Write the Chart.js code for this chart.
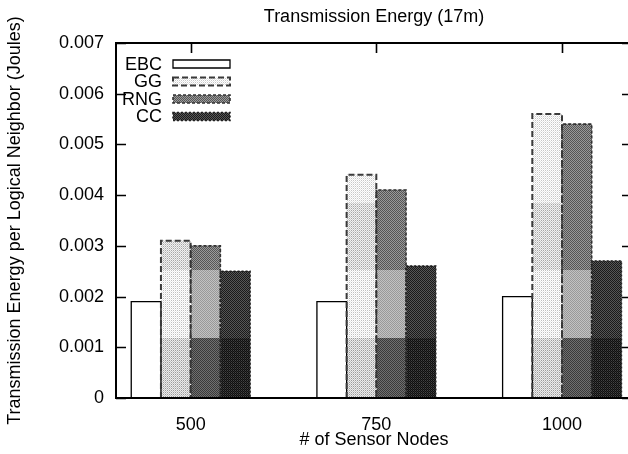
<!DOCTYPE html>
<html>
<head>
<meta charset="utf-8">
<script src="https://cdn.jsdelivr.net/npm/chart.js@4.4.1/dist/chart.umd.min.js"></script>
<style>
  html, body { margin: 0; padding: 0; background: #fff; overflow: hidden; }
  canvas { display: block; }
</style>
</head>
<body>
<canvas id="energyChart" width="636" height="454"></canvas>
<script>
// transmission energy per logical neighbor, by network size
const sensorNodes = ['500', '750', '1000'];
const seriesNames = ['EBC', 'GG', 'RNG', 'CC'];
const ebcEnergy = [0.0019, 0.0019, 0.0020];
const ggEnergy  = [0.0031, 0.0044, 0.0056];
const rngEnergy = [0.0030, 0.0041, 0.0054];
const ccEnergy  = [0.0025, 0.0026, 0.0027];

const canvas = document.getElementById('energyChart');
const ctx = canvas.getContext('2d');
const font = { family: '"Liberation Sans", Arial, Helvetica, sans-serif', size: 18, weight: 'normal' };

// dithered gray fills, tone changes at fixed rows (bands) like the old gnuplot print
function dither(bands) {
    const tile = document.createElement('canvas');
    tile.width = 2;
    tile.height = canvas.height;
    const g = tile.getContext('2d');
    let y0 = 0;
    bands.forEach(([until, cells]) => {
        for (let y = y0; y < until; y++) {
            for (let x = 0; x < 2; x++) {
                g.fillStyle = cells[(y % 2) * 2 + x];
                g.fillRect(x, y, 1, 1);
            }
        }
        y0 = until;
    });
    return ctx.createPattern(tile, 'repeat');
}

const ggFill = dither([
    [203, ['#ffffff', '#c8c8c8', '#e6e6e6', '#ffffff']],
    [270, ['#f2f2f2', '#a8a8a8', '#cccccc', '#f2f2f2']],
    [338, ['#ffffff', '#c0c0c0', '#ebebeb', '#ffffff']],
    [454, ['#ececec', '#9c9c9c', '#c4c4c4', '#ececec']]
]);
const rngFill = dither([
    [270, ['#565656', '#9a9a9a', '#9a9a9a', '#565656']],
    [338, ['#999999', '#c2c2c2', '#c2c2c2', '#999999']],
    [454, ['#3a3a3a', '#707070', '#707070', '#3a3a3a']]
]);
const ccFill = dither([
    [338, ['#1a1a1a', '#565656', '#565656', '#1a1a1a']],
    [454, ['#0e0e0e', '#444444', '#2c2c2c', '#0e0e0e']]
]);

// outline of each series: dash pattern, colour, width
const edgeStyles = [
    { dash: [], color: '#000', width: 1.3 },
    { dash: [6, 3], color: '#3a3a3a', width: 2 },
    { dash: [3, 2], color: '#333', width: 1.6 },
    { dash: [2, 2], color: '#222', width: 1.6 }
];

const toPoints = arr => arr.map((v, i) => ({ x: i, y: v }));

const datasets = [
    { label: seriesNames[0], data: toPoints(ebcEnergy), backgroundColor: '#fff' },
    { label: seriesNames[1], data: toPoints(ggEnergy), backgroundColor: ggFill },
    { label: seriesNames[2], data: toPoints(rngEnergy), backgroundColor: rngFill },
    { label: seriesNames[3], data: toPoints(ccEnergy), backgroundColor: ccFill }
];

function outline(c, left, top, right, bottom, st, closed) {
    c.save();
    c.strokeStyle = st.color;
    c.lineWidth = st.width;
    c.setLineDash(st.dash);
    c.beginPath();
    if (closed) {
        c.rect(left, top, right - left, bottom - top);
    } else {
        c.moveTo(left, bottom);
        c.lineTo(left, top);
        c.lineTo(right, top);
        c.lineTo(right, bottom);
    }
    c.stroke();
    c.restore();
}

// box round the plot with inward ticks on every side
const frame = {
    id: 'frame',
    beforeDatasetsDraw(chart) {
        const { ctx: c, chartArea: a, scales: { x, y } } = chart;
        c.save();
        c.strokeStyle = '#000';
        c.lineWidth = 2;
        c.strokeRect(a.left, a.top, a.right - a.left, a.bottom - a.top);
        c.lineWidth = 1.6;
        c.beginPath();
        y.ticks.forEach(t => {
            const py = Math.round(y.getPixelForValue(t.value)) + 0.5;
            c.moveTo(a.left, py); c.lineTo(a.left + 10, py);
            c.moveTo(a.right, py); c.lineTo(a.right - 10, py);
        });
        x.ticks.forEach(t => {
            const px = Math.round(x.getPixelForValue(t.value)) + 0.5;
            c.moveTo(px, a.top); c.lineTo(px, a.top + 10);
            c.moveTo(px, a.bottom); c.lineTo(px, a.bottom - 10);
        });
        c.stroke();
        c.restore();
    },
    afterDatasetsDraw(chart) {
        const { ctx: c, chartArea: a } = chart;
        chart.data.datasets.forEach((ds, i) => {
            chart.getDatasetMeta(i).data.forEach(bar => {
                const half = bar.width / 2;
                outline(c, bar.x - half, bar.y, bar.x + half, bar.base, edgeStyles[i], false);
            });
        });
        c.save();
        c.strokeStyle = '#000';
        c.lineWidth = 2;
        c.beginPath();
        c.moveTo(a.left, a.bottom);
        c.lineTo(a.right, a.bottom);
        c.stroke();
        c.restore();
    }
};

// key in the top-left corner: name on the left, sample on the right
const key = {
    id: 'key',
    afterDraw(chart) {
        const { ctx: c, chartArea: a } = chart;
        c.save();
        c.font = `${font.size}px ${font.family}`;
        c.textAlign = 'right';
        c.textBaseline = 'middle';
        chart.data.datasets.forEach((ds, i) => {
            const cy = a.top + 21 + i * 17.5;
            c.fillStyle = '#000';
            c.fillText(ds.label, a.left + 46, cy + 1);
            const bx = a.left + 57, bw = 57, bh = 8;
            c.fillStyle = ds.backgroundColor;
            c.fillRect(bx, cy - bh / 2, bw, bh);
            outline(c, bx, cy - bh / 2, bx + bw, cy + bh / 2, edgeStyles[i], true);
        });
        c.restore();
    }
};

new Chart(ctx, {
    type: 'bar',
    data: { datasets: datasets },
    options: {
        responsive: false,
        animation: false,
        devicePixelRatio: 1,
        barThickness: 29.7,
        borderWidth: 0,
        layout: { padding: { left: 0, right: 4, top: 0, bottom: 0 } },
        plugins: {
            legend: { display: false },
            tooltip: { enabled: false },
            title: {
                display: true,
                text: 'Transmission Energy (17m)',
                fullSize: false,
                color: '#000',
                font: font,
                padding: { top: 6, bottom: 15.4 }
            }
        },
        scales: {
            x: {
                type: 'linear',
                min: -0.402,
                max: 2.377,
                offset: false,
                grid: { display: false, drawTicks: false, offset: false },
                border: { display: false },
                ticks: {
                    stepSize: 1,
                    includeBounds: false,
                    padding: 16,
                    color: '#000',
                    font: font,
                    callback: v => sensorNodes[v] ?? ''
                },
                title: {
                    display: true,
                    text: '# of Sensor Nodes',
                    color: '#000',
                    font: font,
                    padding: { top: 0, bottom: 3 }
                },
                afterFit: s => { s.height = 56; }
            },
            y: {
                min: 0,
                max: 0.007,
                grid: { display: false, drawTicks: false },
                border: { display: false },
                ticks: {
                    stepSize: 0.001,
                    padding: 12,
                    color: '#000',
                    font: font,
                    callback: v => v === 0 ? '0' : v.toFixed(3)
                },
                title: {
                    display: true,
                    text: 'Transmission Energy per Logical Neighbor (Joules)',
                    color: '#000',
                    font: font,
                    padding: { top: 4, bottom: 0 }
                },
                afterFit: s => { s.width = 116; }
            }
        }
    },
    plugins: [frame, key]
});
</script>
</body>
</html>
